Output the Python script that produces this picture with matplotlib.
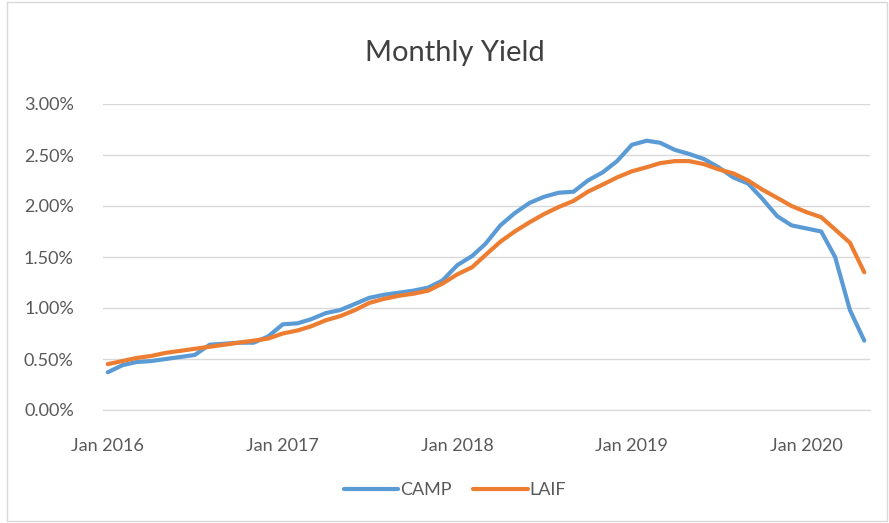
# Monthly yield comparison: CAMP vs LAIF

import pandas as pd
from matplotlib import pyplot as plt
from matplotlib.patches import Rectangle
from matplotlib.ticker import PercentFormatter, FixedLocator
import matplotlib.dates as mdates

months = pd.date_range('2016-01-01', '2020-05-01', freq='MS')

camp = [0.37, 0.44, 0.47, 0.48, 0.50, 0.52, 0.54, 0.64, 0.65, 0.66, 0.66, 0.72,
        0.84, 0.85, 0.89, 0.95, 0.98, 1.04, 1.10, 1.13, 1.15, 1.17, 1.20, 1.27,
        1.42, 1.51, 1.63, 1.81, 1.93, 2.03, 2.09, 2.13, 2.14, 2.25, 2.33, 2.44,
        2.60, 2.64, 2.62, 2.55, 2.51, 2.46, 2.38, 2.28, 2.22, 2.07, 1.90, 1.81,
        1.78, 1.75, 1.50, 0.98, 0.68]

laif = [0.45, 0.48, 0.51, 0.53, 0.56, 0.58, 0.60, 0.62, 0.64, 0.66, 0.68, 0.70,
        0.75, 0.78, 0.82, 0.88, 0.92, 0.98, 1.05, 1.09, 1.12, 1.14, 1.17, 1.24,
        1.33, 1.40, 1.52, 1.65, 1.75, 1.84, 1.92, 1.99, 2.05, 2.14, 2.21, 2.28,
        2.34, 2.38, 2.42, 2.44, 2.44, 2.41, 2.36, 2.32, 2.25, 2.16, 2.08, 2.00,
        1.94, 1.89, 1.77, 1.64, 1.35]

tick_dates = pd.to_datetime(['2016-01-01', '2017-01-01', '2018-01-01',
                             '2019-01-01', '2020-01-01'])

plt.rcParams['font.family'] = ['Lato', 'DejaVu Sans']
text_grey = '#595959'

W, H = 889, 523
fig = plt.figure(figsize=(W / 100, H / 100), dpi=100)
ax = fig.add_axes([103 / W, 1 - 410 / H, (870 - 103) / W, (410 - 104) / H])

ax.plot(months, camp, color='#5B9BD5', lw=3, solid_capstyle='round',
        solid_joinstyle='round', label='CAMP')
ax.plot(months, laif, color='#ED7D31', lw=3, solid_capstyle='round',
        solid_joinstyle='round', label='LAIF')

# x range: a little padding around first and last month
ax.set_xlim(mdates.date2num(months[0]) - 10, mdates.date2num(months[-1]) + 12)
ax.set_ylim(0, 3)
ax.set_yticks([0, 0.5, 1, 1.5, 2, 2.5, 3])
ax.yaxis.set_major_formatter(PercentFormatter(100, decimals=2))
ax.xaxis.set_major_locator(FixedLocator(mdates.date2num(tick_dates)))
ax.xaxis.set_major_formatter(mdates.DateFormatter('%b %Y'))

ax.grid(axis='y', color='#d9d9d9', lw=1)
ax.set_axisbelow(True)
for side in ['top', 'right', 'left']:
    ax.spines[side].set_visible(False)
ax.spines['bottom'].set_color('#d9d9d9')
ax.tick_params(length=0, labelsize=13, colors=text_grey)
ax.tick_params(axis='x', pad=20)
ax.tick_params(axis='y', pad=21)

fig.text(455 / W, 1 - 53 / H, 'Monthly Yield', ha='center', va='center',
         fontsize=21, color='#404040')

fig.legend(loc='center', bbox_to_anchor=(455 / W, 1 - 490 / H), ncol=2,
           frameon=False, fontsize=13, handlelength=3.0, handletextpad=0.1,
           columnspacing=1.2, labelcolor=text_grey)

# light chart-area border
fig.patches.append(Rectangle((7 / W, 2 / H), (887 - 7) / W, (521 - 2) / H,
                             transform=fig.transFigure, fill=False,
                             edgecolor='#d9d9d9', lw=1))

fig.savefig('out.png', dpi=100)
